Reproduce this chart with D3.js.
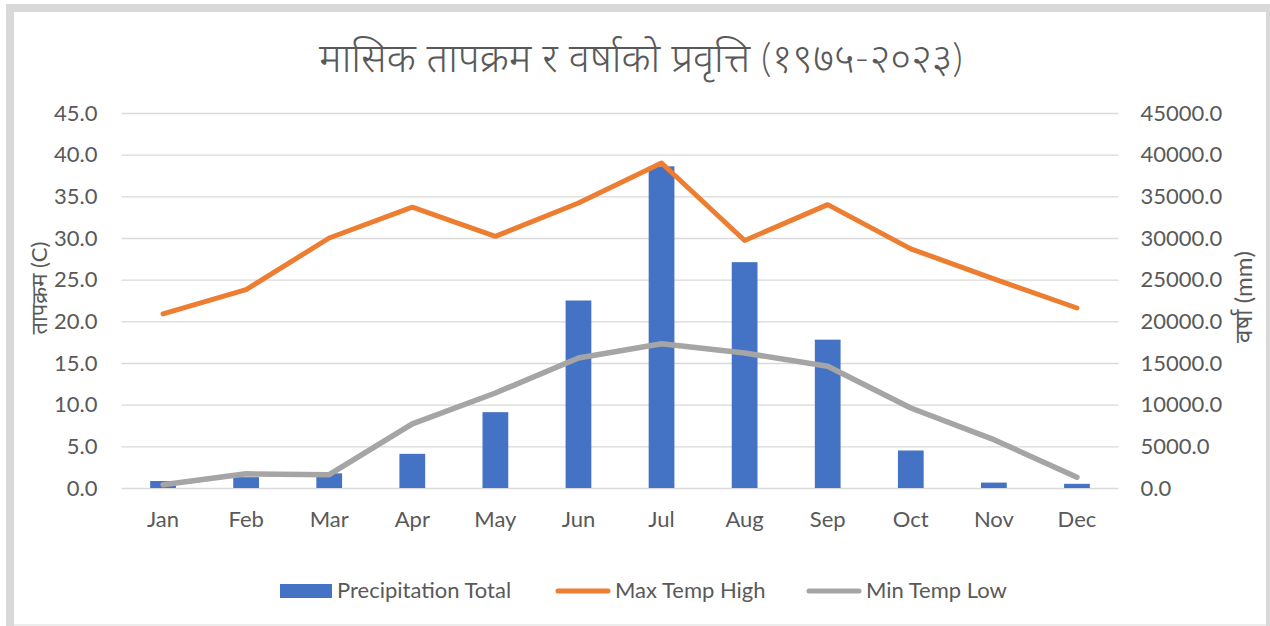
<!DOCTYPE html>
<meta charset="utf-8">
<head>
  <title>मासिक तापक्रम र वर्षा</title>
</head>
<style>
body {
  margin: 0;
  background: #fff;
  font-family: Lato, "Noto Sans", sans-serif;
}
text {
  fill: #595959;
}
</style>
<body>
<svg width="1270" height="626"></svg>
<script src="https://cdnjs.cloudflare.com/ajax/libs/d3/7.8.5/d3.min.js"></script>
<script>
var months = ["Jan", "Feb", "Mar", "Apr", "May", "Jun", "Jul", "Aug", "Sep", "Oct", "Nov", "Dec"];
var precipitation = [840, 1300, 1760, 4100, 9100, 22500, 38600, 27100, 17800, 4500, 650, 500];
var maxTemp = [20.9, 23.8, 30.0, 33.7, 30.2, 34.2, 39.0, 29.7, 34.0, 28.7, 25.1, 21.6];
var minTemp = [0.4, 1.7, 1.6, 7.7, 11.4, 15.6, 17.3, 16.2, 14.6, 9.6, 5.8, 1.3];
var tempTicks = [0, 5, 10, 15, 20, 25, 30, 35, 40, 45];
var rainTicks = [0, 5000, 10000, 15000, 20000, 25000, 30000, 35000, 40000, 45000];

var svg = d3.select("svg");

// frame round the chart
svg.append("rect").attr("x", 6).attr("y", 4).attr("width", 1264).attr("height", 8).attr("fill", "#d9d9d9");
svg.append("rect").attr("x", 6).attr("y", 4).attr("width", 8).attr("height", 622).attr("fill", "#d9d9d9");
svg.append("rect").attr("x", 1266).attr("y", 4).attr("width", 4).attr("height", 622).attr("fill", "#d9d9d9");
svg.append("rect").attr("x", 14).attr("y", 624).attr("width", 1252).attr("height", 2).attr("fill", "#ececec");

var plotLeft = 121.5, plotRight = 1118.5, plotTop = 113, plotBottom = 488;

var x = d3.scaleBand().domain(months).range([plotLeft, plotRight]).paddingInner(0.69).paddingOuter(0.345);
var yT = d3.scaleLinear().domain([0, 45]).range([plotBottom, plotTop]);
var yR = d3.scaleLinear().domain([0, 45000]).range([plotBottom, plotTop]);
var cx = function(m) { return x(m) + x.bandwidth() / 2; };

// gridlines
svg.append("g")
  .attr("transform", "translate(" + plotLeft + ",0)")
  .call(d3.axisLeft(yT).tickValues(tempTicks).tickSize(-(plotRight - plotLeft)).tickFormat(""))
  .call(function(g) {
    g.select(".domain").remove();
    g.selectAll("line").attr("stroke", "#d9d9d9").attr("stroke-width", 1.3);
  });

var styleText = function(g) {
  g.select(".domain").remove();
  g.selectAll("text").attr("font-size", 22).attr("font-family", "Lato").style("fill", "#595959");
};

// left axis labels
svg.append("g")
  .attr("transform", "translate(" + plotLeft + ",0)")
  .call(d3.axisLeft(yT).tickValues(tempTicks).tickSize(0).tickPadding(24).tickFormat(d3.format(".1f")))
  .call(styleText);

// right axis labels
svg.append("g")
  .attr("transform", "translate(" + plotRight + ",0)")
  .call(d3.axisRight(yR).tickValues(rainTicks).tickSize(0).tickPadding(22).tickFormat(d3.format(".1f")))
  .call(styleText);

// x axis labels
svg.append("g")
  .attr("transform", "translate(0," + plotBottom + ")")
  .call(d3.axisBottom(x).tickSize(0).tickPadding(23))
  .call(styleText);

// bars
svg.append("g")
  .selectAll("rect")
  .data(months)
  .enter()
  .append("rect")
  .attr("x", function(d) { return x(d); })
  .attr("width", x.bandwidth())
  .attr("y", function(d, i) { return yR(precipitation[i]); })
  .attr("height", function(d, i) { return plotBottom - yR(precipitation[i]); })
  .attr("fill", "#4472c4");

var line = function(vals) {
  return d3.line()
    .x(function(d) { return cx(d); })
    .y(function(d, i) { return yT(vals[i]); })(months);
};

svg.append("path").attr("d", line(maxTemp)).attr("fill", "none")
  .attr("stroke", "#ed7d31").attr("stroke-width", 5).attr("stroke-linecap", "round").attr("stroke-linejoin", "round");
svg.append("path").attr("d", line(minTemp)).attr("fill", "none")
  .attr("stroke", "#a5a5a5").attr("stroke-width", 5.5).attr("stroke-linecap", "round").attr("stroke-linejoin", "round");

// title
svg.append("text")
  .attr("x", 641).attr("y", 72)
  .attr("text-anchor", "middle")
  .attr("font-size", 40)
  .style("font-weight", 300)
  .text("मासिक तापक्रम र वर्षाको प्रवृत्ति (१९७५-२०२३)");

// axis titles
svg.append("text")
  .attr("transform", "translate(47,288) rotate(-90)")
  .attr("text-anchor", "middle")
  .attr("font-size", 22)
  .text("तापक्रम (C)");
svg.append("text")
  .attr("transform", "translate(1252,297) rotate(-90)")
  .attr("text-anchor", "middle")
  .attr("font-size", 24)
  .text("वर्षा (mm)");

// legend
var legend = svg.append("g").attr("font-size", 22).attr("font-family", "Lato");
legend.append("rect").attr("x", 280).attr("y", 584).attr("width", 52).attr("height", 14).attr("fill", "#4472c4");
legend.append("text").attr("x", 337).attr("y", 598).text("Precipitation Total");
legend.append("line").attr("x1", 558).attr("x2", 608).attr("y1", 591).attr("y2", 591)
  .attr("stroke", "#ed7d31").attr("stroke-width", 5).attr("stroke-linecap", "round");
legend.append("text").attr("x", 615).attr("y", 598).text("Max Temp High");
legend.append("line").attr("x1", 809).attr("x2", 859).attr("y1", 591).attr("y2", 591)
  .attr("stroke", "#a5a5a5").attr("stroke-width", 5).attr("stroke-linecap", "round");
legend.append("text").attr("x", 866).attr("y", 598).text("Min Temp Low");
</script>
</body>
</html>
